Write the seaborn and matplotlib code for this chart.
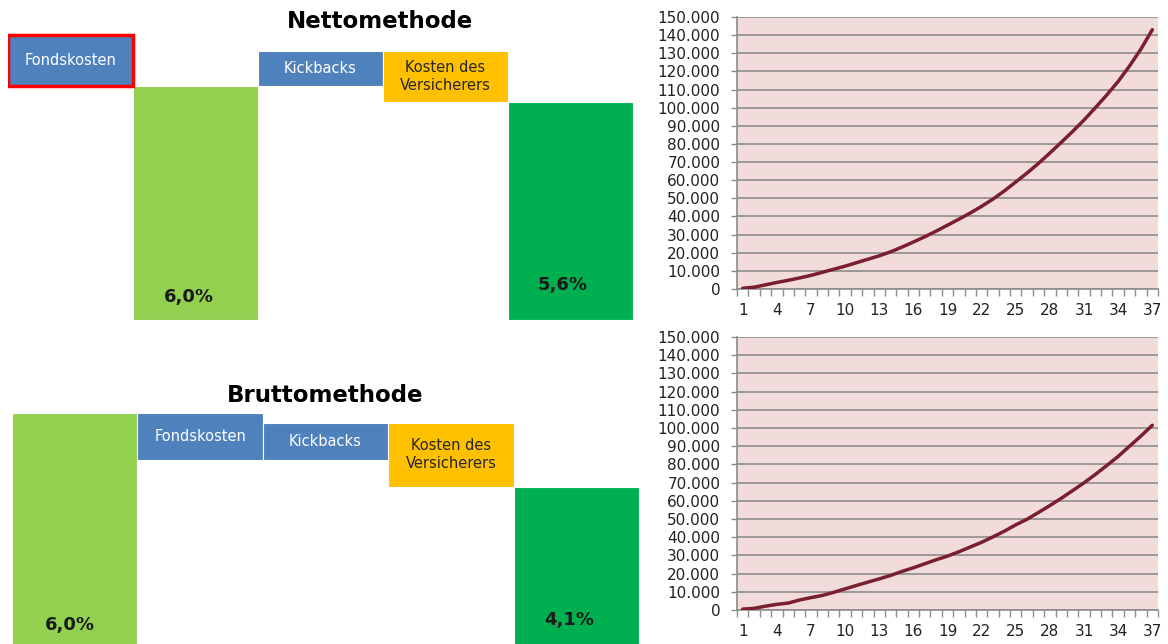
import matplotlib
matplotlib.use("Agg")
import matplotlib.pyplot as plt
import numpy as np
import seaborn as sns
from matplotlib.ticker import FuncFormatter

# waterfall steps (positions 0..4), values in percent
netto_names = ["Fondskosten", "", "Kickbacks", "Kosten des\nVersicherers", ""]
netto_bottom = [6.0, 0.0, 6.0, 5.6, 0.0]
netto_height = [1.3, 6.0, 0.9, 1.3, 5.6]
netto_pct = ["6,0%", "5,6%"]

brutto_names = ["", "Fondskosten", "Kickbacks", "Kosten des\nVersicherers", ""]
brutto_bottom = [0.0, 4.8, 4.8, 4.1, 0.0]
brutto_height = [6.0, 1.2, 0.95, 1.65, 4.1]
brutto_pct = ["6,0%", "4,1%"]

# accumulated capital by year
years = list(range(1, 38))
netto_capital = [
    400, 1000, 2300, 3600, 4800, 6100, 7500, 9200, 10900, 12600,
    14500, 16400, 18300, 20500, 23100, 25900, 28800, 31900, 35200, 38500,
    41900, 45600, 49600, 54100, 59000, 64000, 69300, 75000, 80900, 86900,
    93200, 100000, 107000, 114500, 123000, 132300, 143000,
]
brutto_capital = [
    500, 900, 2100, 3100, 3800, 5500, 6800, 8000, 9700, 11600,
    13500, 15300, 17100, 19000, 21200, 23200, 25400, 27600, 29600, 32000,
    34600, 37200, 40200, 43300, 46800, 49900, 53600, 57400, 61400, 65600,
    69900, 74500, 79400, 84400, 90000, 95600, 101500,
]

W, H = 1168, 644
LIGHT_GREEN = "#92D050"
BLUE = "#4F81BD"
ORANGE = "#FFC000"
DARK_GREEN = "#00B050"
colors_netto = [BLUE, LIGHT_GREEN, BLUE, ORANGE, DARK_GREEN]
colors_brutto = [LIGHT_GREEN, BLUE, BLUE, ORANGE, DARK_GREEN]

sns.set_style("white")
plt.rcParams["font.family"] = ["DejaVu Sans"]


def px_axes(fig, left, top, right, bottom):
    return fig.add_axes([left / W, 1 - bottom / H, (right - left) / W, (bottom - top) / H])


def waterfall(ax, names, bottoms, heights, colors, pct, pct_pos, highlight=None):
    pos = np.arange(len(bottoms))
    bars = ax.bar(pos, heights, bottom=bottoms, width=1.0, color=colors,
                  edgecolor="white", linewidth=0.8)
    if highlight is not None:
        bars[highlight].set_edgecolor("#FF0000")
        bars[highlight].set_linewidth(2.5)
        bars[highlight].set_zorder(3)
    for i, name in enumerate(names):
        if not name:
            continue
        tc = "#262626" if colors[i] == ORANGE else "white"
        ax.text(pos[i], bottoms[i] + heights[i] / 2, name, ha="center", va="center",
                fontsize=10.5, color=tc, linespacing=1.25, zorder=4)
    for (x, y), label in zip(pct_pos, pct):
        ax.text(x, y, label, ha="center", va="center", fontsize=13,
                fontweight="bold", color="#1A1A1A")
    ax.set_xlim(-0.5, 4.5)
    ax.set_ylim(0, 7.5)
    ax.axis("off")


def growth(ax, values):
    ax.set_facecolor("#F2DCDB")
    sns.lineplot(x=years, y=values, ax=ax, color="#7A1F2E", linewidth=2.5, zorder=3)
    ax.set_xlim(0.5, 37.5)
    ax.set_ylim(0, 150000)
    ax.set_yticks(np.arange(0, 150001, 10000))
    ax.yaxis.set_major_formatter(FuncFormatter(lambda v, p: f"{int(v):,}".replace(",", ".")))
    ax.set_xticks(range(1, 38, 3))
    ax.set_xticks(np.arange(0.5, 38, 1), minor=True)
    ax.grid(axis="y", color="#8C8C8C", linewidth=1.2)
    ax.grid(axis="x", visible=False)
    ax.set_axisbelow(True)
    for s in ("top", "right"):
        ax.spines[s].set_visible(False)
    for s in ("left", "bottom"):
        ax.spines[s].set_color("#8C8C8C")
        ax.spines[s].set_linewidth(1.2)
    ax.tick_params(axis="y", which="major", left=True, length=4, width=1, color="#8C8C8C",
                   pad=8, labelsize=11, labelcolor="#222222")
    ax.tick_params(axis="x", which="major", bottom=True, length=0, pad=10,
                   labelsize=11, labelcolor="#222222")
    ax.tick_params(axis="x", which="minor", bottom=True, length=5, width=1, color="#8C8C8C")
    ax.set_xlabel("")
    ax.set_ylabel("")


fig = plt.figure(figsize=(W / 100, H / 100), dpi=100)

ax1 = px_axes(fig, 8, 27.5, 633, 320)
waterfall(ax1, netto_names, netto_bottom, netto_height, colors_netto, netto_pct,
          [(0.95, 0.6), (3.94, 0.9)], highlight=0)
fig.text(380 / W, 1 - 22 / H, "Nettomethode", ha="center", va="center",
         fontsize=16.5, fontweight="bold", color="black")

ax2 = px_axes(fig, 12, 354.5, 639, 647)
waterfall(ax2, brutto_names, brutto_bottom, brutto_height, colors_brutto, brutto_pct,
          [(-0.04, 0.56), (3.94, 0.7)])
fig.text(325 / W, 1 - 395 / H, "Bruttomethode", ha="center", va="center",
         fontsize=16.5, fontweight="bold", color="black")

ax3 = px_axes(fig, 737, 17, 1158, 289)
growth(ax3, netto_capital)

ax4 = px_axes(fig, 737, 337, 1158, 610)
growth(ax4, brutto_capital)

fig.savefig("out.png", dpi=100, facecolor="white")
